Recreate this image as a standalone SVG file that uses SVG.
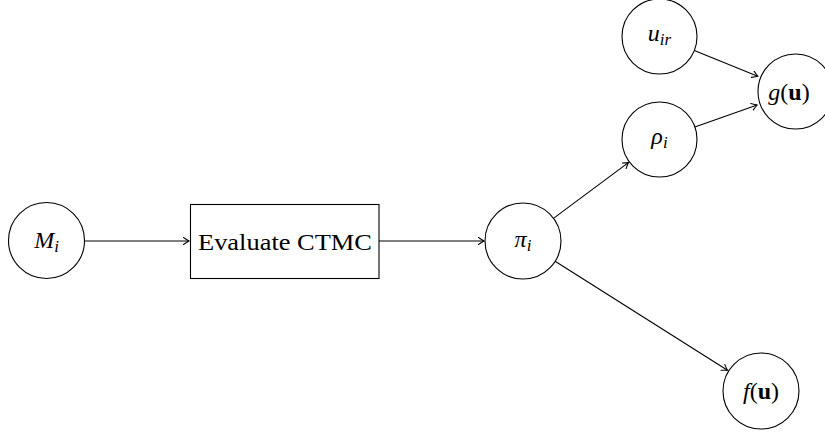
<svg xmlns="http://www.w3.org/2000/svg" width="825" height="433" viewBox="0 0 825 433">
<style>
  .node { fill: #fff; stroke: #000; stroke-width: 1.1; }
  .edge { fill: none; stroke: #000; stroke-width: 1.1; }
  .lbl { font-family: "Liberation Serif", "DejaVu Serif", serif; font-size: 24px; fill: #000; text-anchor: middle; }
  .it { font-style: italic; }
  .bf { font-weight: bold; }
  .sub { font-size: 17px; font-style: italic; }
</style>
<defs>
  <marker id="arr" viewBox="-6 -4 7 8" refX="0" refY="0" markerWidth="7" markerHeight="8" markerUnits="userSpaceOnUse" orient="auto">
    <path d="M -5.5 -3.5 Q -1.5 -0.8 0 0 Q -1.5 0.8 -5.5 3.5" fill="none" stroke="#000" stroke-width="1.1" stroke-linecap="round"/>
  </marker>
</defs>
<rect width="825" height="433" fill="#fff"/>
<g id="connectors">
  <line class="edge" x1="85" y1="241" x2="189" y2="241" marker-end="url(#arr)"/>
  <line class="edge" x1="379" y1="241" x2="484" y2="241" marker-end="url(#arr)"/>
  <line class="edge" x1="553.1" y1="218.6" x2="628.4" y2="162.6" marker-end="url(#arr)"/>
  <line class="edge" x1="554.7" y1="261" x2="727.5" y2="370.3" marker-end="url(#arr)"/>
  <line class="edge" x1="694.3" y1="50.6" x2="757.7" y2="76.2" marker-end="url(#arr)"/>
  <line class="edge" x1="694.9" y1="127" x2="757.1" y2="105" marker-end="url(#arr)"/>
</g>
<g id="M_i">
  <circle class="node" cx="46.5" cy="240.5" r="38"/>
  <text class="lbl" x="46.5" y="248"><tspan class="it">M</tspan><tspan class="sub" dy="4">i</tspan></text>
</g>
<g id="evaluate">
  <rect class="node" x="190.5" y="204.5" width="188.5" height="74"/>
  <text class="lbl" x="285" y="250" textLength="174" lengthAdjust="spacingAndGlyphs">Evaluate CTMC</text>
</g>
<g id="pi_i">
  <circle class="node" cx="523" cy="241" r="38"/>
  <text class="lbl" x="523" y="247"><tspan class="it">π</tspan><tspan class="sub" dy="4">i</tspan></text>
</g>
<g id="rho_i">
  <circle class="node" cx="659.5" cy="139.5" r="37.5"/>
  <text class="lbl" x="659.5" y="144"><tspan class="it">ρ</tspan><tspan class="sub" dy="4">i</tspan></text>
</g>
<g id="u_ir">
  <circle class="node" cx="659.5" cy="36.5" r="37.5"/>
  <text class="lbl" x="659.5" y="41"><tspan class="it">u</tspan><tspan class="sub" dy="4">ir</tspan></text>
</g>
<g id="g_u">
  <circle class="node" cx="795.5" cy="91.5" r="37.5"/>
  <text class="lbl" x="789" y="100"><tspan class="it">g</tspan>(<tspan class="bf">u</tspan>)</text>
</g>
<g id="f_u">
  <circle class="node" cx="761" cy="391" r="38"/>
  <text class="lbl" x="761" y="399"><tspan class="it">f</tspan>(<tspan class="bf">u</tspan>)</text>
</g>
</svg>
